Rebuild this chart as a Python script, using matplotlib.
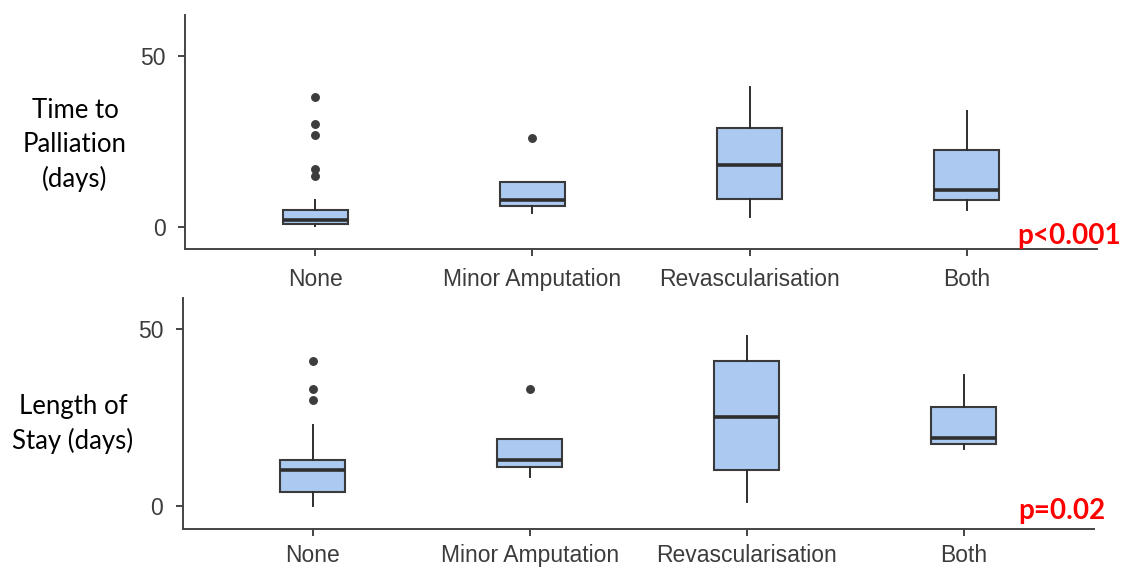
import matplotlib
matplotlib.use("Agg")
import matplotlib.pyplot as plt

# === Data ===
categories = ["None", "Minor Amputation", "Revascularisation", "Both"]

# Time to palliation (days)
ttp_q1 = [1.0, 6.2, 8.2, 8.0]
ttp_med = [2.2, 8.1, 18.1, 11.0]
ttp_q3 = [5.1, 13.3, 29.1, 22.6]
ttp_lo = [0.3, 4.2, 3.1, 5.2]
ttp_hi = [8.0, 13.3, 40.9, 33.9]
ttp_out = [[38, 30, 27, 17, 15], [26], [], []]

# Length of stay (days)
los_q1 = [4.0, 10.9, 10.2, 17.5]
los_med = [10.1, 13.0, 25.0, 19.1]
los_q3 = [13.0, 18.8, 40.8, 28.0]
los_lo = [0.1, 8.1, 1.1, 16.1]
los_hi = [22.9, 18.8, 47.9, 36.9]
los_out = [[41, 33, 30], [33], [], []]

FILL = "#abc9f1"
EDGE = "#3a3a3a"
AXC = "#444444"


def make_stats(q1, med, q3, lo, hi, out):
    stats = []
    for i in range(len(q1)):
        stats.append({"q1": q1[i], "med": med[i], "q3": q3[i],
                      "whislo": lo[i], "whishi": hi[i], "fliers": out[i]})
    return stats


def draw_panel(ax, stats, ylim, xpad=9):
    ax.bxp(stats, positions=range(len(stats)), widths=0.3, patch_artist=True,
           showcaps=False,
           boxprops=dict(facecolor=FILL, edgecolor=EDGE, linewidth=1.5),
           medianprops=dict(color="#2e2e2e", linewidth=2.6),
           whiskerprops=dict(color="#2e2e2e", linewidth=1.4),
           flierprops=dict(marker="o", markersize=5.4, markerfacecolor="#3d3d3d",
                           markeredgecolor="#3d3d3d"))
    ax.set_xlim(-0.6, 3.6)
    ax.set_ylim(*ylim)
    ax.set_yticks([0, 50])
    ax.set_xticks(range(len(categories)))
    ax.set_xticklabels(categories)
    for s in ["top", "right"]:
        ax.spines[s].set_visible(False)
    for s in ["left", "bottom"]:
        ax.spines[s].set_color(AXC)
        ax.spines[s].set_linewidth(1.4)
    ax.tick_params(length=5, width=1.4, color=AXC, labelcolor="#3c3c3c",
                   labelsize=16.5, pad=9)
    ax.tick_params(axis="x", pad=xpad)
    for lab in ax.get_xticklabels() + ax.get_yticklabels():
        lab.set_family("Liberation Sans")


fig = plt.figure(figsize=(11.25, 5.68), dpi=100)

ax1 = fig.add_axes([185 / 1125, 1 - 249 / 568, 912 / 1125, 234 / 568])
draw_panel(ax1, make_stats(ttp_q1, ttp_med, ttp_q3, ttp_lo, ttp_hi, ttp_out), (-6.3, 61.9))

ax2 = fig.add_axes([182.7 / 1125, 1 - 529 / 568, 911 / 1125, 230.7 / 568])
draw_panel(ax2, make_stats(los_q1, los_med, los_q3, los_lo, los_hi, los_out), (-6.5, 58.6),
           xpad=5.5)

# y labels
fig.text(75 / 1125, 1 - 145 / 568, "Time to\nPalliation\n(days)", ha="center", va="center",
         fontsize=18.5, family="Lato", linespacing=1.45)
fig.text(73 / 1125, 1 - 424 / 568, "Length of\nStay (days)", ha="center", va="center",
         fontsize=18.5, family="Lato", linespacing=1.45)

# p values
fig.text(1121 / 1125, 1 - 244 / 568, "p<0.001", ha="right", va="baseline",
         fontsize=20, family="Lato", weight="bold", color="red")
fig.text(1105 / 1125, 1 - 519 / 568, "p=0.02", ha="right", va="baseline",
         fontsize=20, family="Lato", weight="bold", color="red")

fig.savefig("out.png", dpi=100)
